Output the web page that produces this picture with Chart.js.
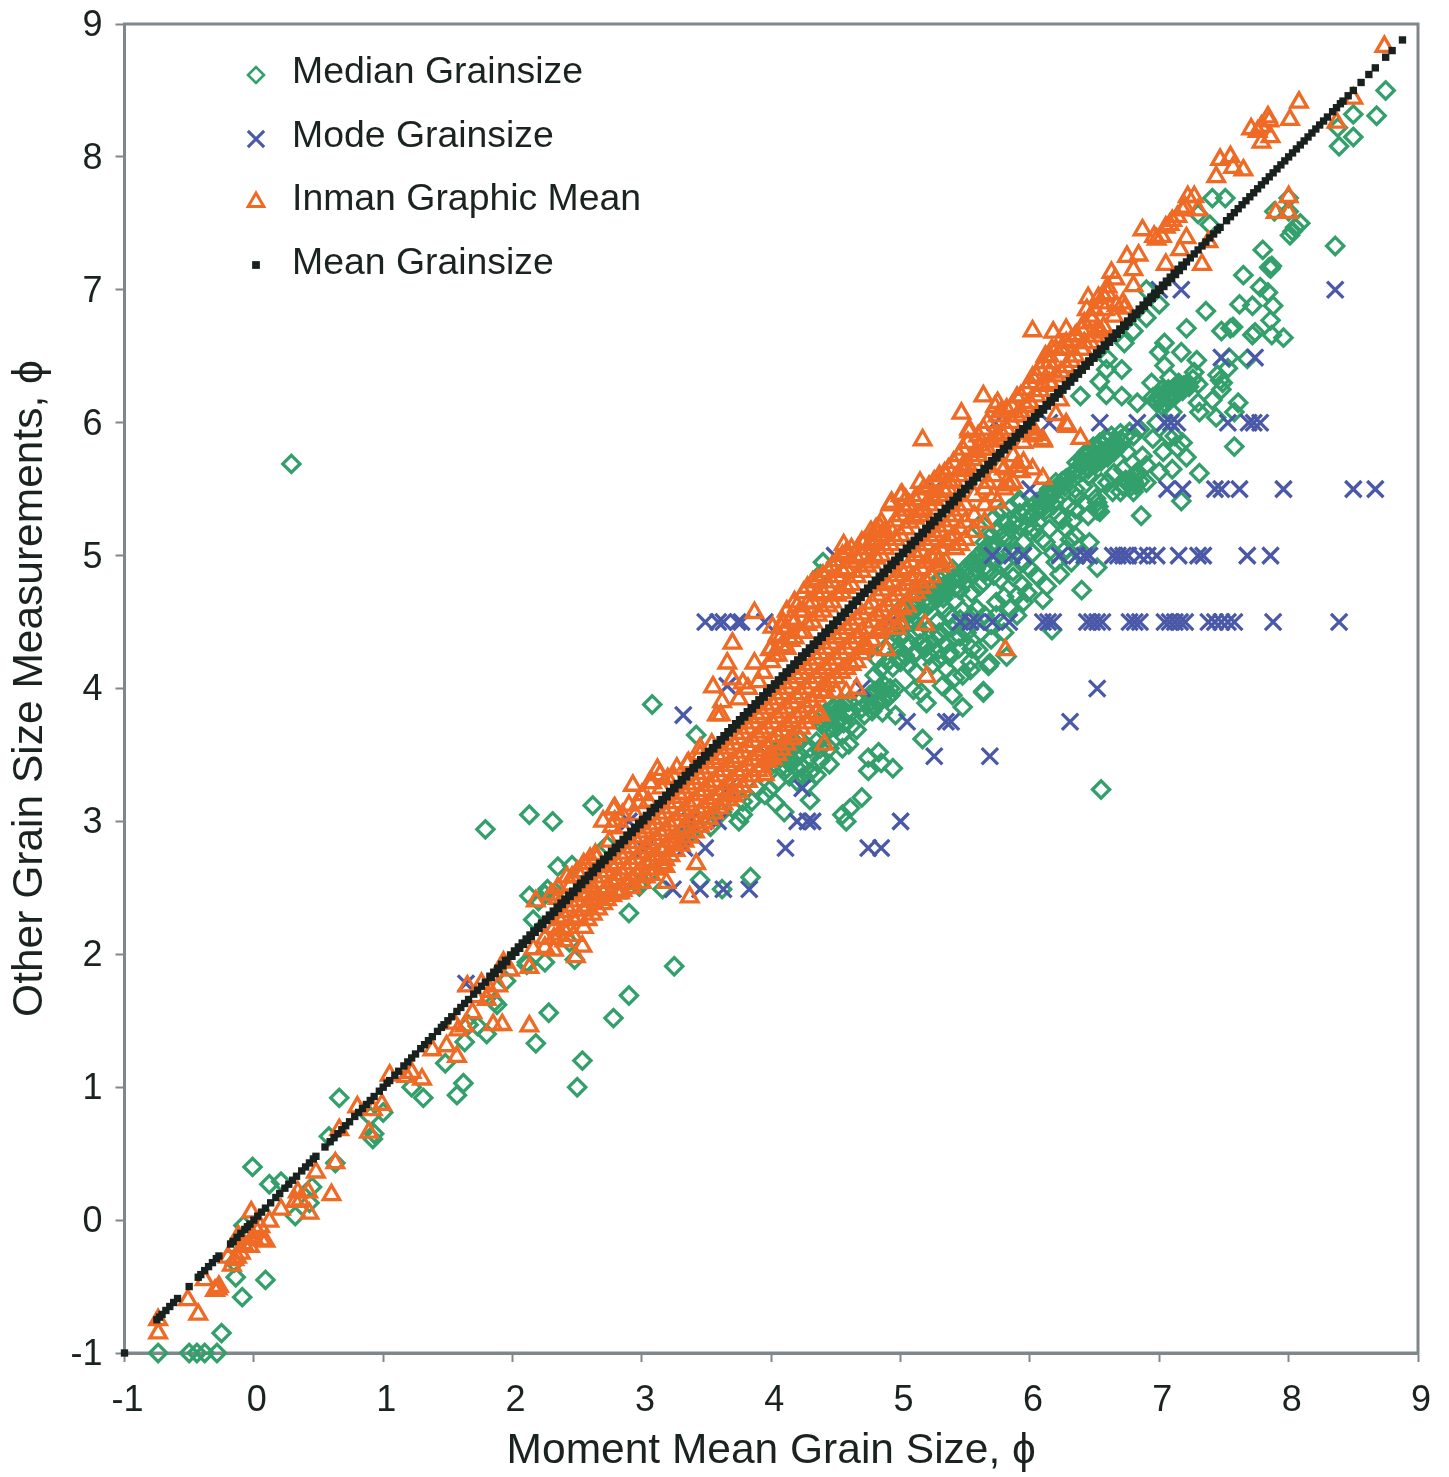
<!DOCTYPE html>
<html><head><meta charset="utf-8">
<style>html,body{margin:0;padding:0;background:#fff}canvas{display:block}</style>
<script src="https://cdn.jsdelivr.net/npm/chart.js@4"></script>
</head><body>
<canvas id="c" width="1449" height="1477"></canvas>
<script>
const seriesNames=["Median Grainsize","Mode Grainsize","Inman Graphic Mean","Mean Grainsize"];
const xTitle="Moment Mean Grain Size, ϕ";
const yTitle="Other Grain Size Measurements, ϕ";
const medianPoints=[
[0.29,5.69],[-0.74,-1],[-0.5,-1],[-0.44,-1],[-0.38,-1],[-0.285,-1],[-0.25,-0.85],[-0.09,-0.58],[0.09,-0.45],[-0.14,-0.43],[-0.08,-0.04],[-0.11,-0.15],[-0.15,-0.32],
[-0.01,0.4],[0.12,0.27],[0.21,0.29],[0.45,0.25],[0.43,0.13],[0.32,0.03],[0.66,0.92],[0.63,0.43],[0.58,0.63],[0.92,0.61],[1,0.81],[0.9,0.78],[0.93,0.65],[1.31,0.92],[1.22,1],[1.62,1.03],[1.57,0.94],[1.48,1.18],[1.63,1.34],[1.8,1.4],[1.88,1.62],[1.73,1.46],[1.66,1.47],[2.18,1.33],[2.28,1.56],[2.54,1.2],[2.5,1],[2.78,1.52],[2.9,1.69],[3.25,1.91],[2.25,1.94],[2.48,1.96],[2.11,1.94],[2.11,1.92],[1.86,1.64],[1.95,1.8],
[1.79,2.94],[2.13,3.05],[2.31,3],[2.62,3.12],[3.08,3.88],[3.42,3.65],[2.35,2.66],[2.46,2.67],[2.13,2.44],[2.73,2.82],[2.27,2.49],[2.33,2.47],[2.25,2.45],[2.2,2.4],[2.16,2.26],[2.9,2.31],[2.44,2.09],[3.45,2.56],[3.84,2.58],[3.62,2.49],[3.16,2.49],[3.06,2.61],[2.98,2.51],[3.0,2.55],[3.78,3.05],[4.03,3.14],[4.1,3.07],[3.32,2.89],[3.37,2.9],[3.53,2.96],[3.62,3.07],[3.7,3.1],[3.75,3.0],
[6.55,3.24],[4.83,3.52],[4.75,3.48],[4.85,3.44],[4.75,3.38],[4.94,3.4],[4.7,3.18],[4.61,3.1],[4.55,3.05],[4.58,3],[5.17,3.62],[5.48,3.86],[5.64,3.97],[5.2,3.89],[5.38,4.24],[5.69,4.19],[5.25,4.18],[5.06,4.18],[5.2,4.31],[5.54,4.14],[5.54,4.2],[4.66,3.69],[4.55,3.65],[4.96,3.8],[5.16,3.97],[4.94,4.16],[5.07,4.34],[4.82,4.22],[4.3,3.16],[4.35,3.35],[4.45,3.43],[4.38,3.46],[4.14,3.34],[3.99,3.24],[3.89,3.25],[4.24,3.41],
[4.0,3.42],[4.05,3.46],[4.1,3.5],[4.15,3.54],[4.2,3.58],[4.02,3.52],[4.08,3.56],[4.14,3.44],[4.2,3.48],[4.1,3.38],[4.2,3.3],[4.25,3.34],[4.3,3.37],[4.28,3.28],[4.22,3.62],
[4.02,3.44],[4.07,3.48],[4.12,3.52],[4.17,3.56],[4.04,3.5],[4.1,3.55],[4.16,3.46],[4.22,3.5],[4.12,3.4],[4.2,3.4],[4.3,3.55],[4.35,3.6],[4.3,3.48],[4.38,3.55],[4.45,3.55],[4.55,3.55],[4.6,3.58],[3.85,3.15],[3.95,3.2],[4.05,3.3],[3.78,3.15],
[4.4,3.72],[4.44,3.76],[4.48,3.8],[4.52,3.84],[4.56,3.88],[4.46,3.7],[4.5,3.74],[4.54,3.78],[4.42,3.82],[4.48,3.86],[4.6,3.8],[4.62,3.72],[4.42,3.74],[4.46,3.78],[4.5,3.82],[4.54,3.86],[4.5,3.7],[4.58,3.82],[4.44,3.7],[4.52,3.76],[4.48,3.84],[4.56,3.74],[4.6,3.9],
[4.76,3.95],[4.8,3.98],[4.84,4],[4.88,4.02],[4.92,4],[4.75,3.88],[4.82,3.9],[4.9,3.93],[4.72,3.8],[4.78,3.83],[4.86,3.82],[4.68,3.9],[4.78,3.96],[4.82,3.98],[4.86,3.98],[4.8,3.86],[4.86,3.92],[4.92,3.95],[4.96,4.0],[4.7,3.85],
[5.2,4.62],[5.24,4.65],[5.28,4.7],[5.32,4.74],[5.36,4.78],[5.4,4.82],[5.44,4.85],[5.48,4.88],[5.52,4.92],[5.3,4.82],[5.35,4.85],[5.4,4.9],[5.25,4.75],[5.45,4.75],[5.5,4.8],[5.15,4.58],[5.1,4.66],[5.05,4.55],[5,4.6],[5.18,4.72],[5.1,4.5],[4.95,4.42],[4.98,4.3],[5.34,4.6],[5.42,4.66],[5.55,4.72],
[5.22,4.66],[5.26,4.7],[5.3,4.7],[5.34,4.78],[5.38,4.78],[5.42,4.84],[5.46,4.82],[5.5,4.86],[5.28,4.78],[5.33,4.68],[5.42,4.76],[5.5,4.9],[5.54,4.86],[5.58,4.95],[5.18,4.66],[5.14,4.7],[5.1,4.6],[5.08,4.52],[5.04,4.48],
[5.62,4.95],[5.68,5.02],[5.72,5.08],[5.78,5.14],[5.84,5.12],[5.88,5.24],[5.92,5.32],[5.98,5.22],[6.03,5.2],[5.68,4.9],[5.72,4.85],[5.8,4.95],[5.85,5.03],[5.95,4.95],[6,4.9],[5.65,5.1],[5.72,5.28],[5.78,5.33],[5.84,5.35],[5.92,5.22],
[4.8,4.1],[4.85,4.15],[4.9,4.2],[4.98,4.22],[5.03,4.25],[5.1,4.25],[4.88,4.3],[4.95,4.36],[5,4.38],[5.02,4.52],[5.12,4.42],[5.22,4.45],[5.28,4.5],[5.38,4.55],[5.42,4.48],[5.55,4.55],[5.65,4.55],[5.74,4.55],[5.85,4.6],[5.35,4.33],[5.45,4.3],[5.3,4.22],[5.42,4.08],[5.32,4.02],[5.4,3.95],
[5,4.2],[5.12,4.12],[5.22,4.25],[5.35,4.15],[5.48,4.1],[5.5,4.45],[5.62,4.42],[5.7,4.48],[5.8,4.42],[5.9,4.55],[5.95,4.65],[5.28,4.28],[5.42,4.38],[5.12,4.28],[6.18,5.02],[6.28,5.05],[6.2,4.95],[6.32,4.95],[6.05,4.85],[5.98,4.72],[5.9,4.7],
[6.1,5.36],[6.13,5.4],[6.16,5.44],[6.19,5.48],[6.22,5.52],[6.25,5.56],[6.15,5.5],[6.2,5.42],[6.08,5.42],[6.02,5.3],[6.05,5.33],[6.28,5.58],[6.08,5.38],[6.11,5.43],[6.14,5.46],[6.17,5.46],[6.21,5.5],[6.24,5.53],[6.18,5.38],[6.12,5.34],[6.06,5.36],[6.27,5.52],[6.2,5.55],
[6.39,5.68],[6.43,5.7],[6.46,5.72],[6.5,5.74],[6.53,5.76],[6.57,5.78],[6.6,5.8],[6.63,5.83],[6.66,5.85],[6.7,5.87],[6.74,5.9],[6.42,5.75],[6.47,5.78],[6.52,5.82],[6.56,5.84],[6.6,5.87],[6.45,5.65],[6.5,5.68],[6.55,5.71],[6.6,5.74],[6.65,5.78],[6.34,5.63],[6.36,5.7],
[6.41,5.72],[6.44,5.67],[6.48,5.7],[6.51,5.72],[6.54,5.75],[6.58,5.76],[6.62,5.79],[6.66,5.81],[6.69,5.83],[6.72,5.85],[6.44,5.78],[6.49,5.82],[6.54,5.85],[6.58,5.88],[6.63,5.9],[6.37,5.65],[6.4,5.63],[6.7,5.92],[6.77,5.93],
[6.75,5.55],[6.78,5.58],[6.8,5.6],[6.83,5.63],[6.72,5.52],[6.85,5.56],[6.78,5.52],[6.74,5.57],[6.76,5.54],[6.8,5.56],[6.82,5.6],[6.7,5.48],[6.82,5.53],
[6.28,5.2],[6.35,5.15],[6.15,5.2],[6.22,5.3],[6.35,5.35],[6.42,5.4],[6.45,5.3],[6.6,5.55],[6.65,5.62],[6.72,5.65],[6.45,5.6],[6.55,5.55],[6.35,5.5],[6.9,5.55],[6.9,5.68],[6.95,5.88],[6.98,6.0],[7.12,5.9],[6.8,5.9],[6.85,5.95],[6.75,5.78],
[6.86,5.3],[6.8,5.48],[7.17,5.41],[6.64,5.48],[6.41,5.52],[6.33,5.26],[6.25,5.27],[6.54,5.33],[6.52,5.4],[6.53,5.37],[6.51,5.43],[6.52,5.34],[6.31,5.12],[6.46,5.1],[6.52,4.91],[6.4,4.74],[6.23,4.86],[6.13,4.77],[6.1,4.67],[5.94,4.78],[6.12,5.1],[6.02,5.02],[6.41,5.02],[5.87,4.88],[5.8,4.69],[5.74,4.65],[5.68,4.17],[5.55,4.3],[5.97,5.32],[6.06,5.25],[5.9,5.27],[5.82,5.14],[5.92,5.42],[5.69,5.07],[5.74,4.97],[5.6,5.22],[5.77,4.82],[5.64,4.8],[5.59,4.6],[5.7,4.37],[5.6,4.29],[5.46,4.39],[5.3,4.39],[5.19,4.31],[5.1,3.99],[5.64,3.98],[5.34,4.44],[5.15,4.44],[5.46,4.52],[6.17,4.44],[5.82,4.24],[5.46,4.74],[5.33,4.72],[5.21,4.62],[5.09,4.57],[5,4.47],[5.15,4.34],[5.05,4.32],[6.1,5.12],[6,5.29],[5.92,5.4],[5.71,4.97],[5.87,4.84],[5.61,4.77],[5.48,4.59],[5.3,4.42],[5.38,4.27],[5.51,4.42],[5.2,4.32],[5.6,5],[5.65,5.05],[5.55,4.95],[5.7,5.15],[5.75,5.2],[5.8,5.25],[5.85,5.2],[5.95,5.1],[6.05,5.4],[4.4,4.95],[4.38,4.86],[5.58,4.9],[5.66,4.88],[5.78,5.03],[5.9,5.03],[6,5.18],[6.3,5.38],[6.36,5.44],
[7.8,7.3],[7.85,7.17],[7.87,7.18],[7.86,7.16],[7.65,7.11],[7.78,7.02],[7.84,6.98],[7.62,6.89],[7.72,6.88],[7.88,6.88],[7.36,6.84],[7.21,6.71],[7.48,6.69],[7.57,6.72],[7.55,6.71],[7.86,6.77],[7.74,6.68],[7.72,6.66],[7.87,6.66],[7.96,6.64],[7.04,6.6],[7,6.53],[7.17,6.53],[7.29,6.47],[7.04,6.43],[7.54,6.49],[7.68,6.48],[7.53,6.41],[6.94,6.3],[7.08,6.34],[7.27,6.38],[7.47,6.32],[7.45,6.36],[7.49,6.3],[7.3,6.29],[7.48,6.25],
[6.95,6.19],[7,6.2],[7.03,6.22],[7.06,6.2],[7.1,6.23],[7.13,6.25],[7.16,6.27],[7.19,6.28],[7.22,6.3],[7.08,6.17],[7.12,6.2],[7.18,6.24],[7.04,6.15],[6.98,6.15],[7.15,6.3],[6.97,6.17],[7.01,6.17],[7.05,6.19],[7.09,6.2],[7.11,6.26],[7.15,6.23],[7.19,6.26],[7.23,6.27],[7.26,6.33],[7.02,6.25],[7.07,6.25],
[7.3,6.15],[7.41,6.17],[7.31,6.08],[7.44,6.04],[7.61,6.15],[7.58,6.08],[7.58,5.82],[7.18,5.85],[7.14,5.81],[7.03,5.78],[7.07,5.9],[7.1,6.08],[7.03,6.12],[6.83,6.15],[6.71,6.2],[6.59,6.21],[6.39,6.2],[6.54,6.31],[6.71,6.4],[6.6,6.48],[6.59,6.4],[6.73,6.6],[6.8,6.69],[6.9,6.79],[7,6.89],[6.9,7],[6.87,5.75],[7.21,5.74],[7,5.63],[7.1,5.65],[7.31,5.62],
[7.41,7.69],[7.51,7.69],[7.39,7.49],[7.3,7.57],[8.09,7.5],[8.01,7.41],[8.05,7.47],[8.03,7.44],[8,7.69],[7.89,7.59],[8,7.59],[8.36,7.33],[8.39,8.08],[8.38,8.22],[8.5,8.32],[8.5,8.15],[8.68,8.31],[8.75,8.5]
];
const modePoints=[
[3.49,4.5],[3.59,4.5],[3.63,4.5],[3.74,4.5],[3.77,4.5],[3.95,4.5],[4.92,4.5],[5.46,4.5],[5.54,4.5],[5.59,4.5],[5.71,4.5],[5.84,4.5],[6.1,4.5],[6.14,4.5],[6.18,4.5],[6.44,4.5],[6.48,4.5],[6.52,4.5],[6.56,4.5],[6.77,4.5],[6.81,4.5],[6.85,4.5],[7.04,4.5],[7.08,4.5],[7.12,4.5],[7.16,4.5],[7.2,4.5],[7.38,4.5],[7.43,4.5],[7.48,4.5],[7.53,4.5],[7.58,4.5],[7.88,4.5],[8.39,4.5],
[4.49,5],[4.76,5],[5.71,5],[5.86,5],[5.95,5],[6.23,5],[6.36,5],[6.42,5],[6.46,5],[6.64,5],[6.68,5],[6.72,5],[6.76,5],[6.85,5],[6.91,5],[6.98,5],[7.15,5],[7.3,5],[7.34,5],[7.68,5],[7.86,5],
[5.26,5.5],[6,5.5],[7.06,5.5],[7.18,5.5],[7.43,5.5],[7.48,5.5],[7.62,5.5],[7.96,5.5],[8.5,5.5],[8.67,5.5],
[5.73,6],[6.15,6],[6.54,6],[6.83,6],[7.04,6],[7.09,6],[7.14,6],[7.53,6],[7.69,6],[7.73,6],[7.78,6],
[7.48,6.49],[7.74,6.49],[7,7],[7.17,7],[8.36,7],
[3.32,3.8],[3.66,4.02],[4.7,4],[5.05,3.75],[5.35,3.75],[5.39,3.75],[5.26,3.49],[5.69,3.49],[6.31,3.75],[6.52,4],[4.24,3.25],[4.2,3],[4.28,3],[4.32,3],[5,3],[4.11,2.8],[4.75,2.8],[4.85,2.8],
[3.83,2.49],[3.63,2.49],[3.45,2.49],[3.24,2.49],[3.49,2.8],[3.33,2.8],[3.59,3],[3.66,3.25],[3.37,3],[2.9,3],[3.02,2.79],[1.64,1.78],[3.98,3.49]
];
const inmanPoints=[
[-0.74,-0.75],[-0.74,-0.85],[-0.51,-0.6],[-0.43,-0.71],[-0.38,-0.45],[-0.28,-0.52],[-0.27,-0.5],[-0.3,-0.53],[-0.15,-0.3],[-0.13,-0.28],[-0.17,-0.34],[-0.2,-0.28],[-0.15,-0.2],[-0.1,-0.25],[-0.05,-0.1],[-0.08,-0.18],[0,-0.14],[0.02,-0.08],[-0.12,-0.12],[0.05,-0.05],[0.06,-0.15],[-0.03,-0.2],[-0.01,-0.13],[0.09,-0.16],[-0.02,0.06],[0.12,-0.01],[0.21,0.08],[0.32,0.14],[0.42,0.21],[0.43,0.05],[0.6,0.19],[0.48,0.36],[0.63,0.43],[0.34,0.21],[0.36,0.15],[0.66,0.68],[0.89,0.66],[0.8,0.85],[0.99,0.87],[0.92,0.83],[1.05,1.09],[1.22,1.11],[1.3,1.06],[1.18,1.08],[1.38,1.28],[1.49,1.31],[1.57,1.23],[1.58,1.43],[1.63,1.46],[1.85,1.47],[1.92,1.47],[2.13,1.46],[1.69,1.56],[1.8,1.66],[1.89,1.76],[1.98,1.88],[2.13,1.9],[1.65,1.76],[2.49,1.98],[1.93,1.94],[2.16,2.04],[2.54,2.06],[1.72,1.68],[1.76,1.78],[1.83,1.72],[1.55,1.48],
[2.25,2.12],[2.25,2.05],[2.32,2.2],[2.32,2.12],[2.32,2.03],[2.4,2.28],[2.4,2.18],[2.4,2.1],[2.47,2.36],[2.47,2.26],[2.47,2.14],[2.55,2.44],[2.55,2.33],[2.55,2.2],[2.62,2.5],[2.62,2.4],[2.62,2.3],[2.62,2.45],[2.7,2.58],[2.7,2.46],[2.7,2.38],[2.77,2.66],[2.77,2.54],[2.77,2.44],[2.85,2.72],[2.85,2.6],[2.85,2.48],[2.92,2.8],[2.92,2.68],[2.92,2.56],[2.92,2.5],[3,2.88],[3,2.76],[3,2.64],[3,2.54],[3.07,2.95],[3.07,2.83],[3.07,2.7],[3.07,2.6],[3.15,3.02],[3.15,2.9],[3.15,2.78],[3.15,2.68],[3.22,3.1],[3.22,2.97],[3.22,2.85],[3.22,2.74],[3.3,3.18],[3.3,3.05],[3.3,2.92],[3.3,2.82],[3.37,3.25],[3.37,3.12],[3.37,3],[3.37,2.88],[3.45,3.32],[3.45,3.2],[3.45,3.07],[3.45,2.96],[3.52,3.4],[3.52,3.27],[3.52,3.14],[3.52,3.02],[3.6,3.47],[3.6,3.34],[3.6,3.2],[3.6,3.1],[3.67,3.55],[3.67,3.42],[3.67,3.28],[3.67,3.16],[3.75,3.62],[3.75,3.48],[3.75,3.35],[3.75,3.22],[3.82,3.7],[3.82,3.56],[3.82,3.42],[3.82,3.3],[3.9,3.78],[3.9,3.64],[3.9,3.5],[3.9,3.38],[3.97,3.85],[3.97,3.7],[3.97,3.56],[3.97,3.45],[4.05,3.92],[4.05,3.78],[4.05,3.64],[4.05,3.5],[4.12,4],[4.12,3.85],[4.12,3.72],[4.12,3.58],[4.2,4.08],[4.2,3.93],[4.2,3.78],[4.2,3.65],[4.27,4.15],[4.27,4],[4.27,3.86],[4.27,3.74],[4.35,4.22],[4.35,4.08],[4.35,3.94],[4.35,3.82],[4.42,4.3],[4.42,4.15],[4.42,4.02],[4.42,3.97],[4.5,4.38],[4.5,4.22],[4.5,4.08],[4.5,3.97],[4.58,4.45],[4.58,4.3],[4.58,4.15],[4.58,3.97],[4.66,4.52],[4.66,4.38],[4.66,4.2],[4.66,4],
[2.36,2.26],[2.36,2.15],[2.44,2.32],[2.44,2.2],[2.51,2.4],[2.51,2.28],[2.58,2.46],[2.58,2.36],[2.58,2.26],[2.66,2.54],[2.66,2.42],[2.66,2.34],[2.73,2.62],[2.73,2.5],[2.73,2.41],[2.81,2.68],[2.81,2.56],[2.81,2.46],[2.88,2.76],[2.88,2.64],[2.88,2.53],[2.96,2.84],[2.96,2.72],[2.96,2.6],[3.03,2.92],[3.03,2.8],[3.03,2.68],[3.03,2.58],[3.11,2.98],[3.11,2.86],[3.11,2.74],[3.11,2.64],[3.18,3.06],[3.18,2.93],[3.18,2.8],[3.18,2.71],[3.26,3.14],[3.26,3],[3.26,2.88],[3.26,2.78],[3.33,3.21],[3.33,3.08],[3.33,2.95],[3.33,2.85],[3.41,3.28],[3.41,3.15],[3.41,3.03],[3.41,2.92],[3.48,3.36],[3.48,3.23],[3.48,3.1],[3.48,2.99],[3.56,3.44],[3.56,3.3],[3.56,3.17],[3.56,3.06],[3.63,3.5],[3.63,3.38],[3.63,3.24],[3.63,3.13],[3.71,3.58],[3.71,3.45],[3.71,3.31],[3.71,3.19],[3.78,3.66],[3.78,3.52],[3.78,3.38],[3.78,3.26],[3.86,3.74],[3.86,3.6],[3.86,3.46],[3.86,3.34],[3.93,3.81],[3.93,3.67],[3.93,3.53],[3.93,3.41],[4.01,3.88],[4.01,3.74],[4.01,3.6],[4.01,3.47],[4.08,3.96],[4.08,3.82],[4.08,3.68],[4.08,3.54],[4.16,4.04],[4.16,3.89],[4.16,3.75],[4.16,3.62],[4.23,4.11],[4.23,3.96],[4.23,3.82],[4.23,3.7],[4.31,4.18],[4.31,4.04],[4.31,3.9],[4.31,3.78],[4.38,4.26],[4.38,4.12],[4.38,3.98],[4.46,4.34],[4.46,4.18],[4.46,4.05],[4.54,4.41],[4.54,4.26],[4.54,4.12],[4.62,4.48],[4.62,4.34],[4.62,4.18],[4.7,4.56],[4.7,4.42],[4.7,4.26],[4.78,4.64],[4.78,4.5],[4.78,4.36],[4.86,4.74],[4.86,4.58],[4.86,4.45],[4.94,4.8],[4.94,4.66],[4.94,4.52],[5.01,4.88],[5.01,4.74],[5.01,4.6],[5.08,4.95],[5.08,4.82],[5.08,4.7],[5.16,5.03],[5.16,4.9],[5.16,4.76],[5.24,5.12],[5.24,4.98],[5.24,4.84],[5.31,5.18],[5.31,5.05],[5.31,4.92],[5.39,5.26],[5.39,5.12],[5.46,5.34],[5.46,5.2],[5.46,5.08],
[4.75,4.6],[4.75,4.45],[4.75,4.3],[4.82,4.7],[4.82,4.55],[4.82,4.42],[4.9,4.78],[4.9,4.62],[4.9,4.48],[4.97,4.85],[4.97,4.7],[4.97,4.55],[4.97,4.45],[5.05,4.9],[5.05,4.78],[5.05,4.62],[5.12,5],[5.12,4.85],[5.12,4.72],[5.2,5.08],[5.2,4.95],[5.2,4.8],[5.27,5.15],[5.27,5],[5.35,5.22],[5.35,5.1],[5.35,4.95],[5.42,5.3],[5.42,5.15],[5.42,5.05],[5.5,5.38],[5.5,5.25],[5.5,5.12],[5.57,5.45],[5.57,5.3],[5.57,5.18],[5.65,5.5],[5.65,5.38],[5.65,5.25],[5.72,5.6],[5.72,5.45],[5.8,5.65],[5.8,5.5],[5.87,5.75],[5.87,5.55],[5.95,5.85],[5.95,5.7],[6.02,5.9],[6.02,5.65],
[3.58,3.8],[4.41,3.58],[3.99,3.48],[3.95,3.35],[3.7,3.2],[3.25,2.83],[3.42,2.68],[3.18,2.66],[3.19,2.54],[3.37,2.43],[2.83,2.46],[4.38,3.8],[4.72,4.33],[4.89,4.29],[5,4.49],[5.19,4.48],[5.2,4.09],[5.81,4.29],[4.84,4.43],[4.71,4.32],[5.15,4.8],[5.3,4.97],
[2.18,2.4],[2.3,2.45],[2.35,2.5],[2.42,2.58],[2.5,2.62],[2.55,2.68],[2.6,2.72],[2.46,2.58],[2.64,2.75],[2.79,3.1],[2.7,3],[2.77,2.96],[2.93,3.27],[3.08,3.29],[2.98,3.14],[3.14,3.35],[2.78,3.09],[2.79,3],[3.12,3.39],[3.06,3.29],[3.27,3.4],[3.36,3.44],[3.45,3.5],[3.54,3.58],[2.85,3.05],[2.9,3.12],[3.0,3.2],[3.2,3.32],
[2.35,2.42],[2.45,2.52],[2.55,2.62],[2.65,2.72],[2.75,2.85],[2.85,2.95],[2.95,3.05],[3.05,3.15],[3.15,3.25],[3.25,3.33],[3.35,3.43],[3.45,3.55],
[3.55,4.01],[3.66,4.19],[3.7,4.34],[3.87,4.57],[3.62,3.9],[3.61,3.8],[3.7,4.07],[3.78,4.04],[3.87,4.19],[3.82,4],[3.94,4.12],[3.99,4.29],[4.01,4.46],[4.09,4.5],[4.2,4.62],[4.07,4.38],[3.75,3.92],[3.9,4.05],
[4,4.2],[4,4.3],[4.05,4.25],[4.05,4.4],[4.12,4.3],[4.12,4.45],[4.12,4.58],[4.18,4.38],[4.18,4.5],[4.18,4.65],[4.25,4.42],[4.25,4.58],[4.25,4.72],[4.32,4.5],[4.32,4.65],[4.32,4.8],[4.4,4.58],[4.4,4.72],[4.4,4.85],[4.47,4.65],[4.47,4.8],[4.47,4.92],[4.55,4.72],[4.55,4.88],[4.55,5],[4.62,4.78],[4.62,4.95],[4.62,5.05],[4.7,4.88],[4.7,5],[4.7,5.1],[4.77,4.95],[4.77,5.08],[4.77,5.18],[4.85,5],[4.85,5.15],[4.85,5.25],[4.92,5.08],[4.92,5.2],[4.92,5.38],[5,5.15],[5,5.3],[5,5.45],[5.07,5.25],[5.07,5.38],[5.15,5.3],[5.15,5.45],[5.15,5.55],[5.22,5.38],[5.22,5.52],[5.3,5.45],[5.3,5.6],[5.37,5.5],[5.37,5.65],[5.45,5.6],[5.45,5.75],[5.52,5.68],[5.52,5.85],[5.6,5.75],[5.6,5.9],[5.67,5.8],[5.67,6],[5.75,5.9],[5.75,6.05],[5.75,6.15],[5.82,5.95],[5.82,6.1],[5.9,6.05],[5.97,6.12],[5.97,6.25],[6.05,6.2],[6.05,6.35],[6.1,6.28],[6.1,6.45],[6.2,6.35],[6.2,6.55],[6.28,6.42],[6.28,6.6],[6.35,6.5],[6.35,6.65],[6.42,6.6],[6.42,6.75],[6.5,6.65],[6.5,6.85],[6.57,6.72],[6.57,6.95],[6.65,6.8],[6.72,6.9],
[4.02,4.25],[4.08,4.32],[4.08,4.46],[4.15,4.36],[4.15,4.52],[4.22,4.42],[4.22,4.58],[4.28,4.48],[4.28,4.64],[4.28,4.76],[4.36,4.55],[4.36,4.7],[4.36,4.82],[4.44,4.62],[4.44,4.76],[4.44,4.88],[4.51,4.7],[4.51,4.84],[4.51,4.96],[4.58,4.76],[4.58,4.9],[4.58,5.02],[4.66,4.84],[4.66,4.98],[4.74,4.92],[4.74,5.05],[4.81,4.98],[4.81,5.12],[4.81,5.2],[4.88,5.05],[4.88,5.18],[4.96,5.12],[4.96,5.26],[5.04,5.2],[5.04,5.34],[5.04,5.42],[5.11,5.28],[5.11,5.42],[5.18,5.35],[5.18,5.5],[5.26,5.42],[5.26,5.56],[5.34,5.48],[5.34,5.62],[5.41,5.56],[5.41,5.7],[5.48,5.64],[5.48,5.8],[5.56,5.72],[5.64,5.8],[5.64,5.95],[5.7,5.86],[5.78,5.92],[5.78,6.08],[5.86,6],[5.86,6.12],[5.93,6.08],[5.93,6.2],[6,6.15],[6,6.3],[6.08,6.24],[6.08,6.4],[6.15,6.3],[6.15,6.5],[6.24,6.38],[6.24,6.55],[6.32,6.46],[6.32,6.62],[6.4,6.55],[6.4,6.7],[6.47,6.6],[6.47,6.8],[6.55,6.68],[6.55,6.9],
[5.17,5.87],[5.53,5.95],[5.48,5.67],[5.35,5.6],[5.01,5.46],[4.93,5.4],[5.06,5.37],[4.84,5.21],[4.56,5.08],[4.72,5.1],[4.79,5.1],[4.67,5.05],[5.24,5.44],[5.17,5.33],[5.61,5.83],[5.74,5.9],[5.91,5.67],[5.77,5.67],[5.84,5.53],[5.67,5.55],[5.75,5.4],[6.1,5.58],[6.1,5.86],[6.02,5.92],[6.28,5.99],[5.47,6.07],[5.53,5.93],[5.73,6.12],[5.9,6.19],[6,6.15],[5.59,5.78],[5.77,5.87],[5.5,5.66],[5.38,5.55],[5.9,5.67],[5.82,5.55],[6.39,5.88],[6.29,5.97],[6.2,6.06],[6.1,5.87],[6,5.95],[6.05,5.91],[5.94,6.05],[5.93,5.63],[6.23,6.17],[5.64,6.2],[6.02,6.69],[6.18,6.68],[6.28,6.7],[6.36,6.66],[6.25,6.56],[6.41,6.55],[6.17,6.55],[6.15,6.45],[6.12,6.5],[6.02,6.34],[6.15,6.38],[6.17,6.28],
[7.05,7.19],[7.33,7.19],[6.75,7.25],[6.84,7.26],[6.8,7.15],[6.8,7.03],[6.63,7.13],[6.66,7.08],[6.53,6.94],[6.45,6.94],[6.44,6.85],[6.6,6.97],[6.67,6.88],[6.73,6.86],[6.48,6.77],[6.58,6.85],[6.52,6.7],[6.6,7.02],
[6.87,7.45],[6.96,7.4],[6.98,7.38],[7.02,7.4],[7.05,7.47],[7.08,7.49],[7.14,7.55],[7.18,7.6],[7.3,7.6],[7.22,7.7],[7.27,7.7],[7.21,7.39],[7.16,7.3],[7.38,7.36],[7.1,7.52],[7.2,7.62],
[7.47,7.98],[7.55,8],[7.57,7.92],[7.65,7.9],[7.44,7.85],[7.71,8.21],[7.79,8.23],[7.85,8.27],[7.84,8.3],[7.79,8.11],[7.76,8.19],[7.86,8.15],[8.01,8.28],[8.08,8.41],[8,7.7],[7.9,7.58],[8,7.58],[8.37,8.26],[8.5,8.44],[8.74,8.83]
];
const meanValues=[-1,-0.75,-0.73,-0.71,-0.68,-0.65,-0.62,-0.59,-0.5,-0.43,-0.41,-0.38,-0.35,-0.32,-0.29,-0.27,-0.18,-0.16,-0.13,-0.1,-0.07,-0.05,-0.03,0,0.03,0.06,0.09,0.13,0.17,0.2,0.24,0.27,0.3,0.33,0.37,0.4,0.43,0.46,0.48,0.55,0.59,0.62,0.65,0.68,0.71,0.74,0.78,0.81,0.84,0.87,0.9,0.93,0.97,1,1.03,1.05,1.09,1.12,1.16,1.19,1.22,1.25,1.29,1.32,1.35,1.38,1.42,1.45,1.47,1.5,1.53,1.57,1.6,1.63,1.66,1.7,1.73,1.76,1.79,1.83,1.86,1.89,1.92,1.95,1.99,2.02,2.05,2.08,2.11,2.14,2.17,2.2,2.23,2.26,2.29,2.32,2.35,2.38,2.41,2.44,2.47,2.5,2.53,2.56,2.59,2.62,2.65,2.68,2.71,2.74,2.77,2.8,2.83,2.86,2.89,2.92,2.95,2.98,3.01,3.04,3.07,3.1,3.13,3.16,3.19,3.22,3.25,3.28,3.31,3.34,3.37,3.4,3.43,3.46,3.49,3.52,3.55,3.58,3.61,3.64,3.67,3.7,3.73,3.76,3.79,3.82,3.85,3.88,3.91,3.94,3.97,4,4.03,4.06,4.09,4.12,4.15,4.18,4.21,4.24,4.27,4.3,4.33,4.36,4.39,4.42,4.45,4.48,4.51,4.54,4.57,4.6,4.63,4.66,4.69,4.72,4.75,4.78,4.81,4.84,4.87,4.9,4.93,4.96,4.99,5.02,5.05,5.08,5.11,5.14,5.17,5.2,5.23,5.26,5.29,5.32,5.35,5.38,5.41,5.44,5.47,5.5,5.53,5.56,5.59,5.62,5.65,5.68,5.71,5.74,5.77,5.8,5.83,5.86,5.89,5.92,5.95,5.98,6.01,6.04,6.07,6.1,6.13,6.16,6.19,6.22,6.25,6.28,6.31,6.34,6.37,6.4,6.43,6.46,6.49,6.52,6.55,6.58,6.61,6.64,6.67,6.7,6.73,6.76,6.79,6.82,6.85,6.88,6.91,6.94,6.97,7,7.03,7.06,7.09,7.12,7.15,7.18,7.21,7.24,7.27,7.3,7.33,7.36,7.39,7.42,7.45,7.47,7.52,7.55,7.58,7.61,7.64,7.67,7.7,7.73,7.76,7.79,7.82,7.85,7.88,7.91,7.94,7.97,8,8.03,8.06,8.09,8.12,8.15,8.18,8.21,8.24,8.27,8.3,8.34,8.37,8.4,8.42,8.46,8.5,8.56,8.62,8.67,8.75,8.8,8.88];

const INK="#1b2321",AXIS="#7f878b",GREEN="#33a06c",BLUE="#4a58a8",ORANGE="#ee6a25",BLACK="#19211f";
const toXY=a=>a.map(([x,y])=>({x,y}));
const legendStyle=[
 {pointStyle:"rectRot",radius:8,lw:2.6,stroke:GREEN,fill:"transparent"},
 {pointStyle:"crossRot",radius:11.5,lw:3,stroke:BLUE,fill:"transparent"},
 {pointStyle:"triangle",radius:9,lw:3,stroke:ORANGE,fill:"transparent"},
 {pointStyle:"rect",radius:5.5,lw:0,stroke:BLACK,fill:BLACK}
];
const legendRowY=[75,139,202,265],legendTextY=[73,137,200,264];
const frameAndLegend={id:"frameAndLegend",
 beforeDatasetsDraw(chart){const a=chart.chartArea,c=chart.ctx;c.save();c.strokeStyle=AXIS;c.lineWidth=3;c.strokeRect(a.left,a.top,a.right-a.left,a.bottom-a.top);c.restore();},
 afterDraw(chart){const c=chart.ctx;c.save();
  seriesNames.forEach((n,i)=>{const s=legendStyle[i];c.strokeStyle=s.stroke;c.fillStyle=s.fill;c.lineWidth=s.lw;
   Chart.helpers.drawPoint(c,{pointStyle:s.pointStyle,radius:s.radius,rotation:0,borderWidth:s.lw},256,legendRowY[i]);
   c.fillStyle=INK;c.font='37.4px "Liberation Sans"';c.textAlign="left";c.textBaseline="middle";c.fillText(n,292,legendTextY[i]);});
  c.restore();}
};
new Chart(document.getElementById("c"),{type:"scatter",plugins:[frameAndLegend],
 data:{datasets:[
  {label:seriesNames[0],data:toXY(medianPoints),order:4,pointStyle:"rectRot",pointRadius:8.6,pointBorderWidth:3.3,pointBorderColor:GREEN,pointBackgroundColor:"transparent",clip:false},
  {label:seriesNames[1],data:toXY(modePoints),order:3,pointStyle:"crossRot",pointRadius:11.5,pointBorderWidth:3.3,pointBorderColor:BLUE,pointBackgroundColor:"transparent",clip:false},
  {label:seriesNames[2],data:toXY(inmanPoints),order:2,pointStyle:"triangle",pointRadius:9.5,pointBorderWidth:3.3,pointBorderColor:ORANGE,pointBackgroundColor:"transparent",clip:false},
  {label:seriesNames[3],data:meanValues.map(v=>({x:v,y:v})),order:1,pointStyle:"rect",pointRadius:c=>(c.raw&&c.raw.x>1.8&&c.raw.x<7.2)?6.2:5.2,pointBorderWidth:0,pointBackgroundColor:BLACK,clip:false}
 ]},
 options:{responsive:false,animation:false,devicePixelRatio:1,
  layout:{padding:{top:24,right:31,left:0,bottom:0}},
  plugins:{legend:{display:false},tooltip:{enabled:false}},
  scales:{
   x:{type:"linear",min:-1,max:9,
    afterFit(s){s.height=124;s.paddingLeft=0;s.paddingRight=0;},
    border:{color:AXIS,width:3},
    grid:{drawOnChartArea:false,tickLength:9,color:AXIS,tickWidth:2},
    ticks:{stepSize:1,color:INK,font:{family:'"Liberation Sans"',size:36},padding:17,labelOffset:3,maxRotation:0,autoSkip:false,callback:v=>String(v)},
    title:{display:true,text:xTitle,color:INK,font:{family:'"Liberation Sans"',size:42.5},padding:{top:3,bottom:0}}},
   y:{type:"linear",min:-1,max:9,
    afterFit(s){s.width=124.5;s.paddingTop=0;s.paddingBottom=0;},
    border:{color:AXIS,width:3},
    grid:{drawOnChartArea:false,tickLength:9,color:AXIS,tickWidth:2},
    ticks:{stepSize:1,color:INK,font:{family:'"Liberation Sans"',size:36},padding:13,labelOffset:2,autoSkip:false,callback:v=>String(v)},
    title:{display:true,text:yTitle,color:INK,font:{family:'"Liberation Sans"',size:42.5},padding:{top:5,bottom:0}}}
  }}
});
</script>
</body></html>
